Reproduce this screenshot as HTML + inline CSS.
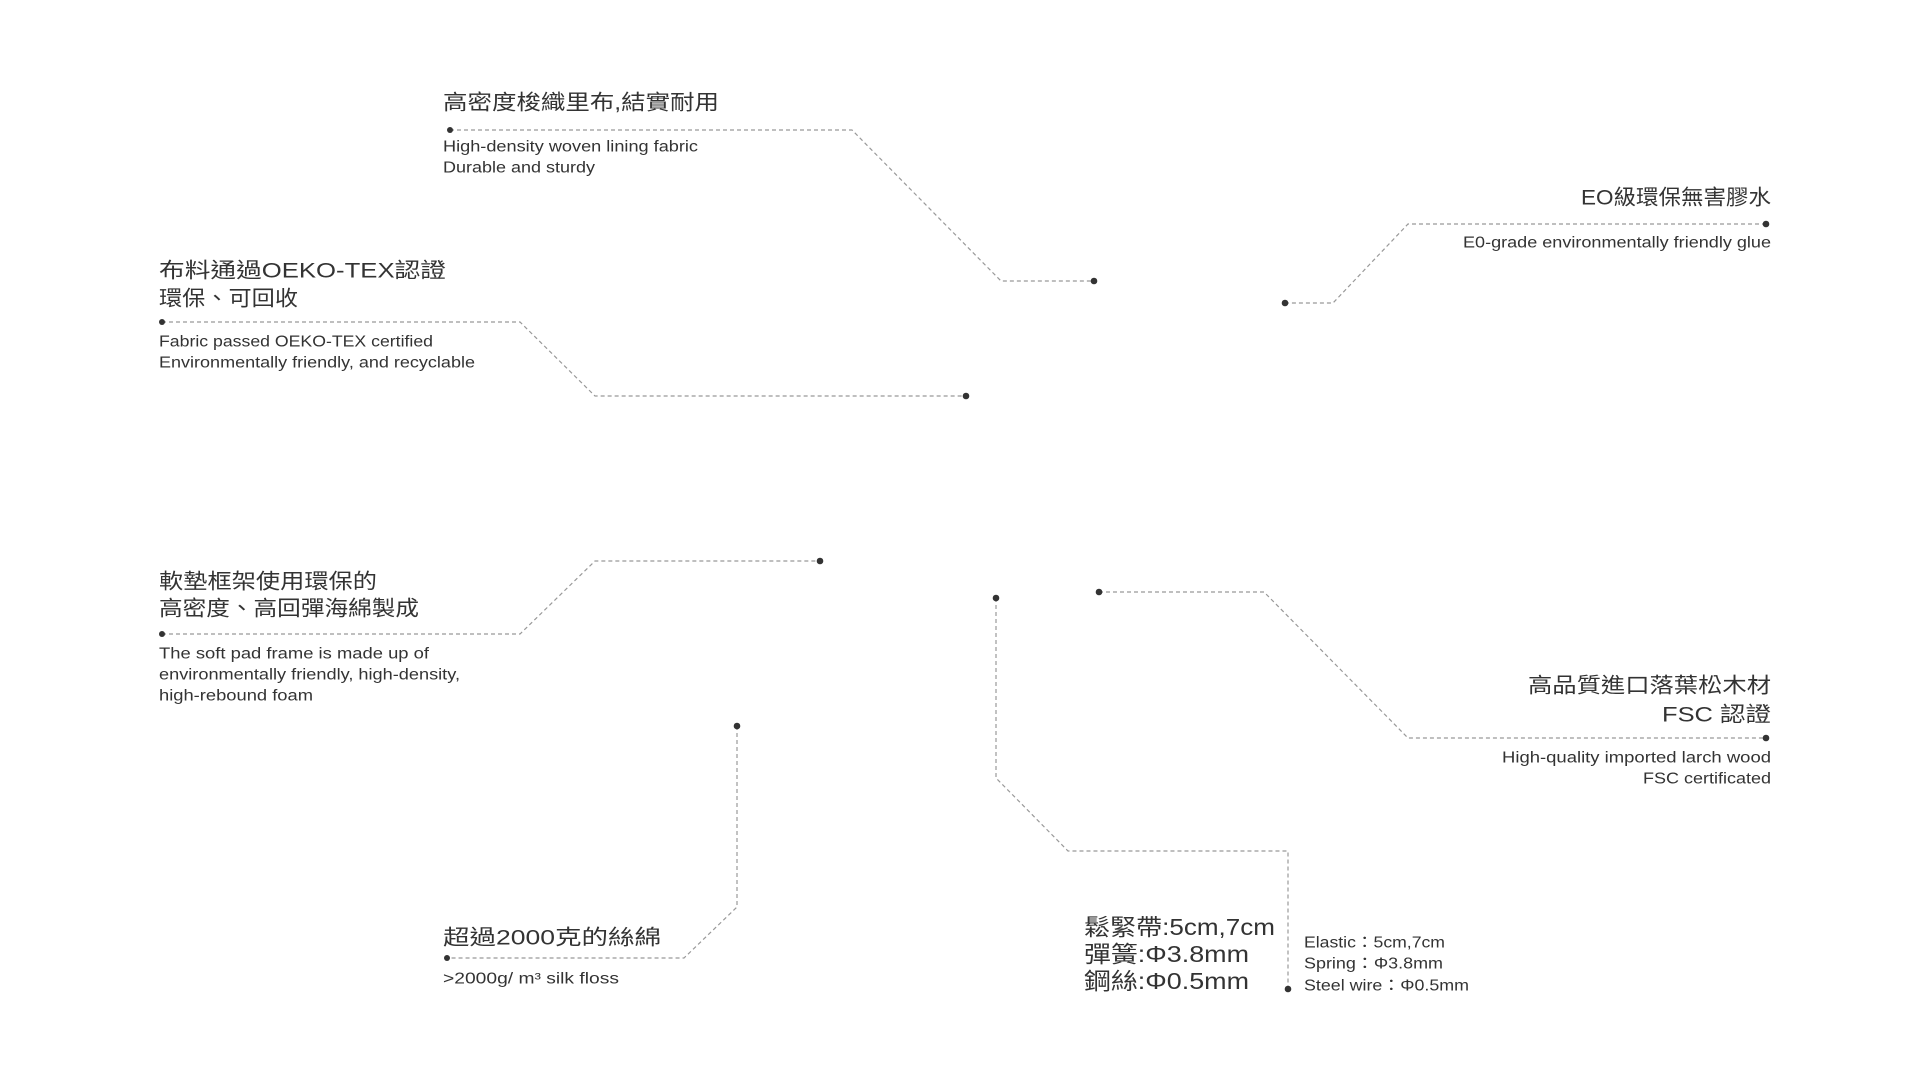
<!DOCTYPE html>
<html><head><meta charset="utf-8"><style>
html,body{margin:0;padding:0;background:#fff;}
svg{display:block;}
text{font-family:"Liberation Sans","Noto Sans CJK TC",sans-serif;fill:#333;dominant-baseline:central;}
.t{font-size:21px;}
.e{font-size:15.5px;}
.b{font-size:23px;}
.r{text-anchor:end;}
path{fill:none;stroke:#999;stroke-width:1.2;stroke-dasharray:4 3;}
circle{fill:#333;}
</style></head><body>
<svg width="1920" height="1080" viewBox="0 0 1920 1080">
<!-- 1 -->
<text class="t" x="443" y="103" textLength="276" lengthAdjust="spacingAndGlyphs">高密度梭織里布,結實耐用</text>
<path d="M450 130 H852 L1001 281 H1094"/>
<circle cx="450" cy="130" r="3"/><circle cx="1094" cy="281" r="3.3"/>
<text class="e" x="443" y="147" textLength="255" lengthAdjust="spacingAndGlyphs">High-density woven lining fabric</text>
<text class="e" x="443" y="168" textLength="152" lengthAdjust="spacingAndGlyphs">Durable and sturdy</text>
<!-- 2 -->
<text class="t r" x="1771" y="198" textLength="190" lengthAdjust="spacingAndGlyphs">EO級環保無害膠水</text>
<path d="M1766 224 H1408 L1333 303 H1285"/>
<circle cx="1766" cy="224" r="3.3"/><circle cx="1285" cy="303" r="3.3"/>
<text class="e r" x="1771" y="243" textLength="308" lengthAdjust="spacingAndGlyphs">E0-grade environmentally friendly glue</text>
<!-- 3 -->
<text class="t" x="159" y="271" textLength="287" lengthAdjust="spacingAndGlyphs">布料通過OEKO-TEX認證</text>
<text class="t" x="159" y="299" textLength="139" lengthAdjust="spacingAndGlyphs">環保、可回收</text>
<path d="M162 322 H520 L595 396 H966"/>
<circle cx="162" cy="322" r="3"/><circle cx="966" cy="396" r="3.3"/>
<text class="e" x="159" y="342" textLength="274" lengthAdjust="spacingAndGlyphs">Fabric passed OEKO-TEX certified</text>
<text class="e" x="159" y="363" textLength="316" lengthAdjust="spacingAndGlyphs">Environmentally friendly, and recyclable</text>
<!-- 4 -->
<text class="t" x="159" y="582" textLength="218" lengthAdjust="spacingAndGlyphs">軟墊框架使用環保的</text>
<text class="t" x="159" y="609" textLength="260" lengthAdjust="spacingAndGlyphs">高密度、高回彈海綿製成</text>
<path d="M162 634 H520 L595 561 H820"/>
<circle cx="162" cy="634" r="3"/><circle cx="820" cy="561" r="3.3"/>
<text class="e" x="159" y="654" textLength="270" lengthAdjust="spacingAndGlyphs">The soft pad frame is made up of</text>
<text class="e" x="159" y="675" textLength="301" lengthAdjust="spacingAndGlyphs">environmentally friendly, high-density,</text>
<text class="e" x="159" y="696" textLength="154" lengthAdjust="spacingAndGlyphs">high-rebound foam</text>
<!-- 5 -->
<path d="M737 726 V907 L684 958 H447"/>
<circle cx="737" cy="726" r="3.3"/><circle cx="447" cy="958" r="3"/>
<text class="t" x="443" y="938" textLength="218" lengthAdjust="spacingAndGlyphs">超過2000克的絲綿</text>
<text class="e" x="443" y="979" textLength="176" lengthAdjust="spacingAndGlyphs">&gt;2000g/ m³ silk floss</text>
<!-- 6 -->
<path d="M996 598 V778 L1068 851 H1288 V989"/>
<circle cx="996" cy="598" r="3.3"/><circle cx="1288" cy="989" r="3.3"/>
<text class="b" x="1084" y="927" textLength="191" lengthAdjust="spacingAndGlyphs">鬆緊帶:5cm,7cm</text>
<text class="b" x="1084" y="954" textLength="165" lengthAdjust="spacingAndGlyphs">彈簧:Φ3.8mm</text>
<text class="b" x="1084" y="981" textLength="165" lengthAdjust="spacingAndGlyphs">鋼絲:Φ0.5mm</text>
<text class="e" x="1304" y="943" textLength="141" lengthAdjust="spacingAndGlyphs">Elastic：5cm,7cm</text>
<text class="e" x="1304" y="964" textLength="139" lengthAdjust="spacingAndGlyphs">Spring：Φ3.8mm</text>
<text class="e" x="1304" y="986" textLength="165" lengthAdjust="spacingAndGlyphs">Steel wire：Φ0.5mm</text>
<!-- 7 -->
<path d="M1099 592 H1264 L1408 738 H1766"/>
<circle cx="1099" cy="592" r="3.3"/><circle cx="1766" cy="738" r="3.3"/>
<text class="t r" x="1771" y="686" textLength="243" lengthAdjust="spacingAndGlyphs">高品質進口落葉松木材</text>
<text class="t r" x="1771" y="715" textLength="109" lengthAdjust="spacingAndGlyphs">FSC 認證</text>
<text class="e r" x="1771" y="758" textLength="269" lengthAdjust="spacingAndGlyphs">High-quality imported larch wood</text>
<text class="e r" x="1771" y="779" textLength="128" lengthAdjust="spacingAndGlyphs">FSC certificated</text>
</svg>
</body></html>
